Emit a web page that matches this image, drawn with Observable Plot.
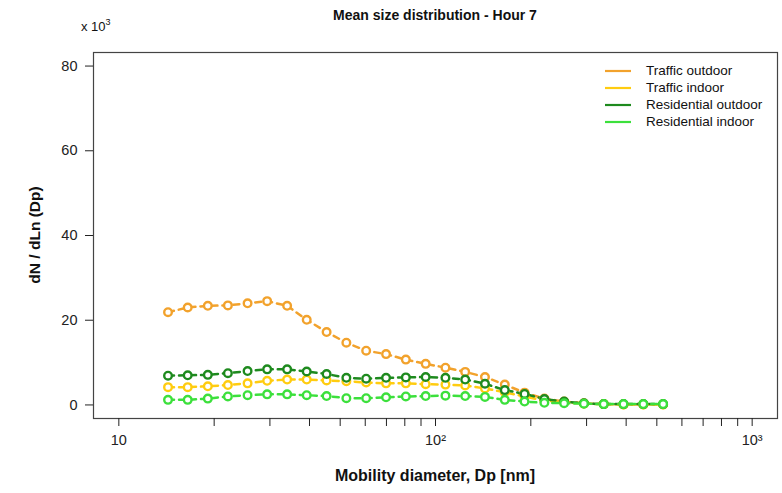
<!DOCTYPE html>
<html><head><meta charset="utf-8">
<script src="https://cdn.jsdelivr.net/npm/d3@7"></script>
<script src="https://cdn.jsdelivr.net/npm/@observablehq/plot@0.6"></script>
<style>
body{margin:0;background:#fff;font-family:"Liberation Sans",Arial,Helvetica,sans-serif;}
#wrap{position:relative;width:782px;height:493px;overflow:hidden;}
.ov{position:absolute;color:#111;white-space:nowrap;}
#title{left:93px;width:684px;top:6px;text-align:center;font-weight:bold;font-size:14px;line-height:18px;}
#mult{left:81px;top:20px;font-size:13px;line-height:14px;}
#mult sup{font-size:9px;vertical-align:6px;line-height:0;}
#xlab{left:93px;width:684px;top:466px;text-align:center;font-weight:bold;font-size:16px;line-height:20px;}
#ylab{left:-65px;top:225px;width:200px;height:20px;line-height:20px;text-align:center;font-weight:bold;font-size:15.5px;transform:rotate(-90deg);}
.leg{position:absolute;left:600px;height:17px;line-height:17px;font-size:13.5px;color:#111;white-space:nowrap;}
.leg svg{position:absolute;left:0;top:0;}
.leg span{position:absolute;left:46px;top:0;}
</style></head><body><div id="wrap"></div>
<script>
// Mobility diameter (nm) of each SMPS channel
const diameters = [14.3, 16.5, 19.1, 22.1, 25.5, 29.4, 34.0, 39.2, 45.3, 52.3, 60.4, 69.8, 80.6, 93.1, 107.5, 124.1, 143.3, 165.5, 191.1, 220.7, 254.8, 294.3, 339.8, 392.4, 453.2, 523.3];
// dN/dLn(Dp), x 10^3
const trafficOutdoor     = [21.9, 23.0, 23.4, 23.5, 24.0, 24.5, 23.4, 20.1, 17.2, 14.7, 12.8, 12.0, 10.7, 9.7, 8.8, 7.8, 6.6, 4.8, 2.9, 1.5, 0.8, 0.4, 0.2, 0.1, 0.1, 0.1];
const trafficIndoor      = [4.2, 4.2, 4.4, 4.7, 5.1, 5.7, 6.0, 6.0, 5.8, 5.6, 5.3, 5.1, 5.1, 4.9, 4.8, 4.6, 3.9, 3.0, 2.0, 1.0, 0.6, 0.3, 0.2, 0.1, 0.1, 0.1];
const residentialOutdoor = [6.9, 7.0, 7.1, 7.5, 8.0, 8.4, 8.4, 7.9, 7.3, 6.4, 6.2, 6.4, 6.5, 6.6, 6.4, 6.0, 5.0, 3.5, 2.6, 1.4, 0.8, 0.4, 0.2, 0.2, 0.2, 0.2];
const residentialIndoor  = [1.2, 1.2, 1.5, 2.0, 2.3, 2.5, 2.5, 2.3, 2.1, 1.6, 1.6, 1.8, 2.0, 2.1, 2.2, 2.1, 1.9, 1.2, 0.8, 0.5, 0.4, 0.3, 0.2, 0.2, 0.2, 0.2];

const seriesNames  = ["Traffic outdoor", "Traffic indoor", "Residential outdoor", "Residential indoor"];
const seriesColors = ["#F2A22C", "#FFCC10", "#1E8A1E", "#3CE03C"];
const seriesValues = [trafficOutdoor, trafficIndoor, residentialOutdoor, residentialIndoor];

const xTicks = [10, 20, 30, 40, 50, 60, 70, 80, 90, 100, 200, 300, 400, 500, 600, 700, 800, 900, 1000];
const xTickLabels = {10: "10", 100: "10²", 1000: "10³"};
const yTicks = [0, 20, 40, 60, 80];

const rows = [];
seriesValues.forEach((vals, i) => vals.forEach((v, j) => rows.push({series: seriesNames[i], d: diameters[j], v})));

const chart = Plot.plot({
  width: 782, height: 493,
  marginLeft: 93, marginRight: 5, marginTop: 52, marginBottom: 75,
  style: {fontFamily: "'Liberation Sans', Arial, sans-serif", fontSize: "14.5px", color: "#222", background: "white"},
  x: {type: "log", domain: [Math.pow(10, 0.92), Math.pow(10, 3.08)]},
  y: {domain: [-3.2, 83.2]},
  color: {domain: seriesNames, range: seriesColors},
  marks: [
    Plot.frame({stroke: "#444", strokeWidth: 1.2}),
    Plot.axisX({ticks: xTicks, tickSize: 8, tickPadding: 8, tickFormat: d => xTickLabels[d] ?? "", label: null}),
    Plot.axisY({ticks: yTicks, tickSize: 8, tickPadding: 8, label: null}),
    Plot.line(rows, {x: "d", y: "v", z: "series", stroke: "series", strokeWidth: 2.5, strokeDasharray: "6,5"}),
    Plot.dot(rows, {x: "d", y: "v", stroke: "series", r: 3.8, strokeWidth: 2.4, fill: "white"})
  ]
});

const wrap = document.getElementById("wrap");
wrap.appendChild(chart);

function addDiv(id, html) {
  const el = document.createElement("div");
  el.className = "ov"; el.id = id; el.innerHTML = html;
  wrap.appendChild(el);
}
addDiv("title", "Mean size distribution - Hour 7");
addDiv("mult", "x 10<sup>3</sup>");
addDiv("xlab", "Mobility diameter, Dp [nm]");
addDiv("ylab", "dN / dLn (Dp)");

const legTops = [62, 79, 96, 113];
seriesNames.forEach((name, i) => {
  const el = document.createElement("div");
  el.className = "leg";
  el.style.top = legTops[i] + "px";
  el.innerHTML = `<svg width="40" height="17"><line x1="5" x2="31" y1="9" y2="9" stroke="${seriesColors[i]}" stroke-width="2.2"/></svg><span>${name}</span>`;
  wrap.appendChild(el);
});
</script>
</body></html>
